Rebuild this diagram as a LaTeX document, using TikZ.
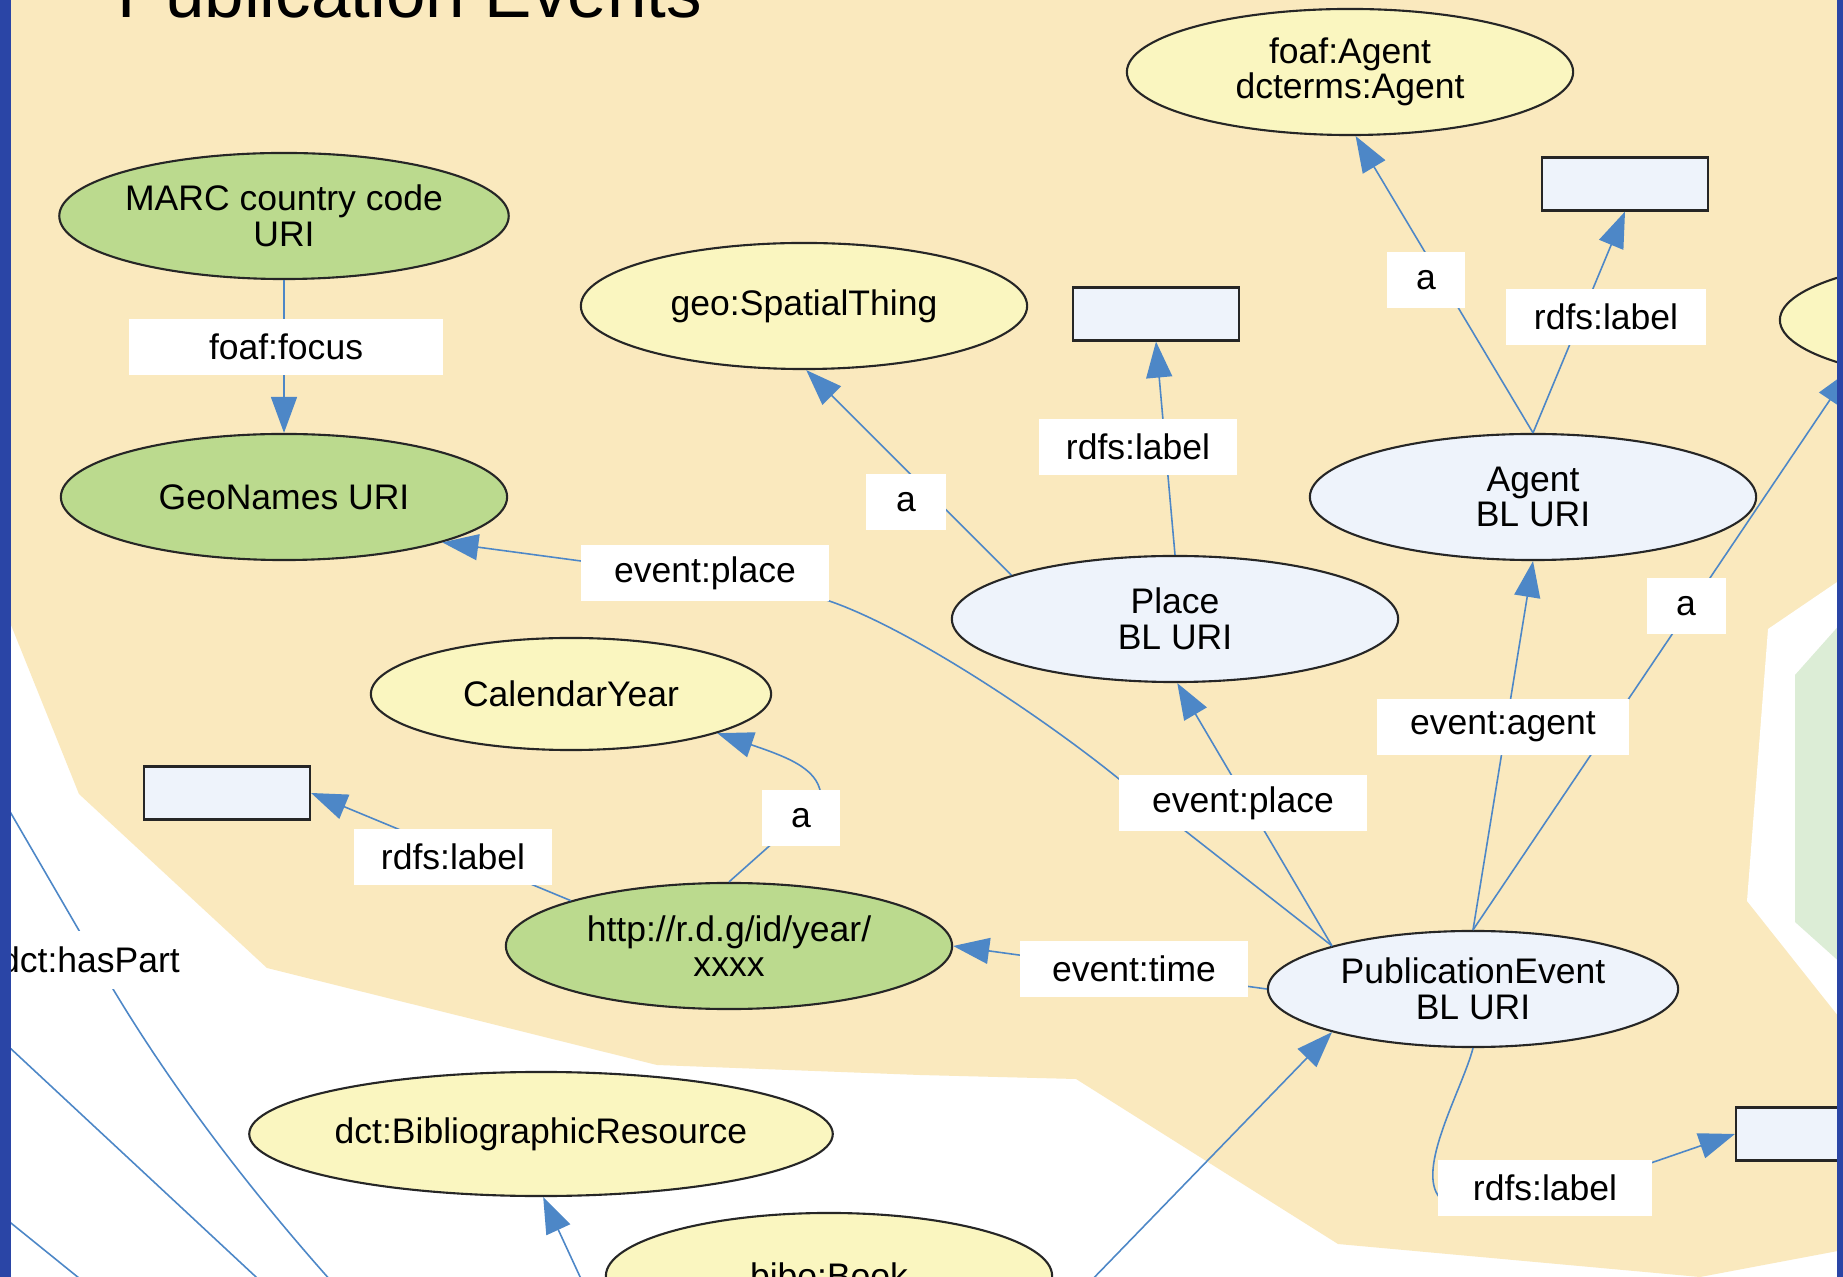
\documentclass[tikz,border=0pt]{standalone}
\usepackage{fontspec}
\setmainfont{Liberation Sans}
\usetikzlibrary{
arrows.meta,
positioning,
shapes.geometric
}
\definecolor{tanbg}{HTML}{FAE9BE}
\definecolor{greenbg}{HTML}{DCEDD6}
\definecolor{clsfill}{HTML}{FAF6C0}
\definecolor{urifill}{HTML}{EEF3FB}
\definecolor{extfill}{HTML}{BBDA8E}
\definecolor{linkblue}{HTML}{4D87C7}
\definecolor{frameblue}{HTML}{2A45A6}
\tikzset{>={Triangle[length=3.6mm,width=2.6mm]}}

\begin{document}
\begin{tikzpicture}[x=0.01cm, y=-0.01cm, every node/.style={font=\fontsize{10.1}{10.1}\selectfont},
	cls/.style={ellipse, draw=black!85, line width=0.6pt, fill=clsfill, inner sep=0pt, align=center, minimum width=4.46cm, minimum height=1.26cm},
	uri/.style={cls, fill=urifill},
	ext/.style={cls, fill=extfill},
	lit/.style={draw=black!85, line width=0.6pt, fill=urifill, inner sep=0pt, minimum width=1.66cm, minimum height=0.53cm},
	lbl/.style={fill=white, inner sep=0pt, minimum height=0.55cm},
	link/.style={draw=linkblue, line width=0.45pt}]
		\useasboundingbox (0,0) rectangle (1843,1277);
		\clip (0,0) rectangle (1843,1277);
		
		% areas
		\fill[white] (0,0) rectangle (1843,1277);
		\fill[tanbg] (11,0) -- (11,625) -- (79,794) -- (267,968) -- (657,1065) -- (920,1075) -- (1076,1079) -- (1338,1244) -- (1700,1277) -- (1843,1250) -- (1843,0) -- cycle;
		\fill[white] (1843,578) -- (1768,629) -- (1747,901) -- (1843,1022) -- cycle;
		\fill[greenbg] (1843,621) -- (1795,675) -- (1795,922) -- (1843,965) -- cycle;
		
		\node[anchor=base west, inner sep=0pt, font=\fontsize{20.2}{24}\selectfont] (title) at (117,18) {Publication Events};
		
		% classes and uris
		\node[ext] (marc) at (284,216) {MARC country code\\URI};
		\node[ext] (geonames) at (284,497) {GeoNames URI};
		\node[cls] (spatial) at (804,306) {geo:SpatialThing};
		\node[cls] (agentcls) at (1350,72) {foaf:Agent\\dcterms:Agent};
		\node[cls] (rightcls) at (2003,320) {};
		\node[uri] (place) at (1175,619) {Place\\BL URI};
		\node[uri] (agent) at (1533,497) {Agent\\BL URI};
		\node[cls, minimum width=4cm, minimum height=1.12cm] (calyear) at (571,694) {CalendarYear};
		\node[ext] (year) at (729,946) {http://r.d.g/id/year/\\xxxx};
		\node[uri, minimum width=4.1cm, minimum height=1.16cm] (pubevent) at (1473,989) {PublicationEvent\\BL URI};
		\node[cls, minimum width=5.82cm, minimum height=1.24cm] (bibres) at (541,1134) {dct:BibliographicResource};
		\node[cls] (book) at (829,1276) {bibo:Book};
		
		% literals
		\node[lit] (placelit) at (1156,314) {};
		\node[lit] (agentlit) at (1625,184) {};
		\node[lit] (yearlit) at (227,793) {};
		\node[lit] (publit) at (1819,1134) {};
		
		% ends outside the frame
		\coordinate (rightend) at (1850,370);
		\coordinate (booksrc) at (600,1320);
		\coordinate (pubsrc) at (1053,1320);
		\coordinate (hpa) at (-20,760);
		\coordinate (hpb) at (340,1291);
		\coordinate (hpc) at (-20,1020);
		\coordinate (hpd) at (270,1290);
		\coordinate (hpe) at (-20,1198);
		\coordinate (hpf) at (95,1291);
		
		% links
		\draw[link,->] (marc) -- (geonames);
		\draw[link,->] (place.165) -- (spatial.272);
		\draw[link,->] (place.north) -- (placelit.south);
		\draw[link,->] (agent.north) -- (agentcls.275);
		\draw[link,->] (agent.north) -- (agentlit.south);
		\draw[link,->] (pubevent.163) -- (place.272);
		\draw[link,->] (pubevent.163) -- (1119,779) .. controls (1040,715) and (900,622) .. (820,598) -- (581,561) -- (geonames.344);
		\draw[link,->] (pubevent.west) -- (year.east);
		\draw[link,->] (pubevent.north) -- (agent.south);
		\draw[link,->] (pubevent.north) -- (rightend);
		\draw[link,->] (pubevent.south) .. controls (1462,1090) and (1415,1170) .. (1440,1198) -- (1645,1165) -- (publit.west);
		\draw[link,->] (year.north) -- (821,800) .. controls (822,770) and (790,758) .. (calyear.345);
		\draw[link,->] (year.164) -- (yearlit.east);
		\draw[link,->] (booksrc) -- (bibres.272);
		\draw[link,->] (pubsrc) -- (pubevent.197);
		
		% hasPart lines
		\draw[link] (hpa) -- (113,989) .. controls (173,1089) and (250,1191) .. (hpb);
		\draw[link] (hpc) -- (hpd);
		\draw[link] (hpe) -- (hpf);
		
		% link labels
		\node[lbl, minimum width=3.13cm] (lfocus) at (286,347) {foaf:focus};
		\node[lbl, minimum width=0.8cm] (lspatial) at (906,502) {a};
		\node[lbl, minimum width=1.98cm] (lplacelit) at (1138,447) {rdfs:label};
		\node[lbl, minimum width=0.78cm] (lagentcls) at (1426,280) {a};
		\node[lbl, minimum width=1.99cm] (lagentlit) at (1606,317) {rdfs:label};
		\node[lbl, minimum width=2.48cm] (lgeo) at (705,573) {event:place};
		\node[lbl, minimum width=2.48cm] (lplace) at (1243,803) {event:place};
		\node[lbl, minimum width=2.52cm] (lagent) at (1503,727) {event:agent};
		\node[lbl, minimum width=0.79cm] (lright) at (1686,606) {a};
		\node[lbl, minimum width=2.28cm] (ltime) at (1134,969) {event:time};
		\node[lbl, minimum width=2.14cm] (lpublit) at (1545,1188) {rdfs:label};
		\node[lbl, minimum width=0.77cm] (lcalyear) at (801,818) {a};
		\node[lbl, minimum width=1.97cm] (lyearlit) at (453,857) {rdfs:label};
		\node[lbl, minimum width=2cm, minimum height=0.58cm] (lhaspart) at (90,960) {dct:hasPart};
		
		% frame
		\fill[frameblue] (0,0) rectangle (11,1277);
		\fill[frameblue] (1837,0) rectangle (1843,1277);
	\end{tikzpicture}
\end{document}
